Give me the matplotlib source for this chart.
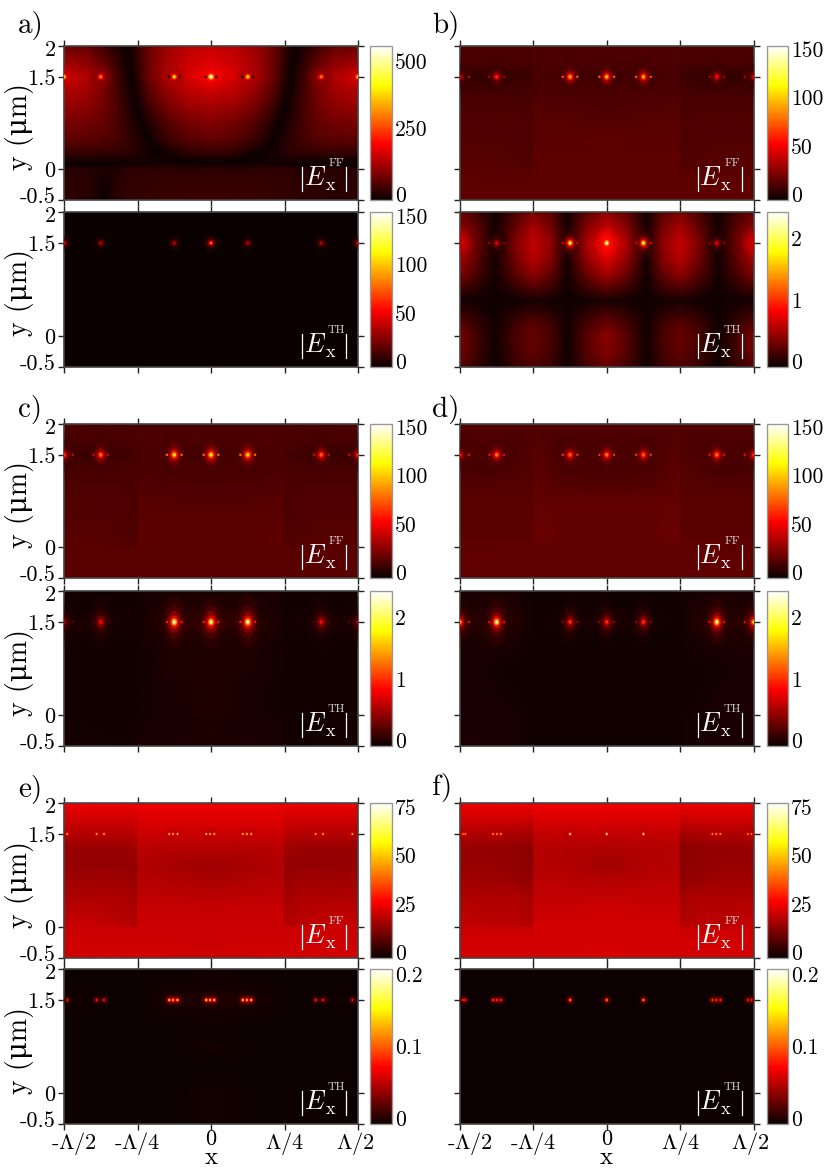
#!/usr/bin/env python3
# -*- coding: utf-8 -*-
import numpy as np
import matplotlib
matplotlib.use('Agg')
import matplotlib.pyplot as plt
from matplotlib.colors import Normalize
from matplotlib.cm import ScalarMappable
from matplotlib.lines import Line2D
from matplotlib.markers import MarkerStyle
from matplotlib.transforms import Affine2D, ScaledTranslation

plt.rcParams['font.family'] = ['cmr10', 'DejaVu Serif']
plt.rcParams['mathtext.fontset'] = 'cm'
plt.rcParams['axes.unicode_minus'] = False

W, H = 830, 1169

# tick labels
x_ticks = [-0.5, -0.25, 0, 0.25, 0.5]
x_labels = [r'-$\Lambda$/2', r'-$\Lambda$/4', '0', r'$\Lambda$/4', r'$\Lambda$/2']
y_ticks = [-0.5, 0, 1.5, 2]
y_labels = ['-0.5', '0', '1.5', '2']

# colour scales (top of the bar, labelled values)
a_ff_max, a_ff_ticks = 579, [0, 250, 500]
a_th_max, a_th_ticks = 160, [0, 50, 100, 150]
ff_max, ff_ticks = 159, [0, 50, 100, 150]
th_max, th_ticks = 2.52, [0, 1, 2]
e_ff_max, e_ff_ticks = 80, [0, 25, 50, 75]
e_th_max, e_th_ticks = 0.215, [0, 0.1, 0.2]

# left half grids, mirrored when drawn
wall_x = [-0.5, -0.4, -0.3, -0.251, -0.249, -0.15, 0]
wall_y = [2, 1.75, 1.5, 1.25, 1, 0.75, 0.5, 0.25, 0.01, -0.01, -0.25, -0.5]

a_ff_x = [-0.5, -0.42, -0.36, -0.31, -0.285, -0.27, -0.25, -0.235, -0.215, -0.19, -0.15, -0.08, 0]
a_ff_y = [2, 1.5, 1, 0.75, 0.5, 0.35, 0.25, 0.15, 0.08, 0, -0.25, -0.5]
a_ff = [
    [85, 75, 45, 15, 2, 15, 40, 58, 80, 100, 125, 150, 165],
    [165, 145, 95, 40, 15, 2, 28, 50, 80, 105, 140, 180, 200],
    [120, 110, 85, 48, 28, 14, 3, 18, 40, 62, 90, 120, 130],
    [95, 90, 75, 48, 33, 24, 12, 2, 18, 36, 62, 90, 103],
    [75, 72, 65, 50, 40, 32, 22, 12, 2, 20, 45, 70, 80],
    [50, 50, 48, 40, 35, 30, 25, 18, 10, 3, 22, 45, 55],
    [35, 35, 33, 30, 28, 25, 22, 18, 12, 6, 3, 28, 35],
    [12, 12, 12, 12, 12, 12, 12, 12, 10, 8, 5, 3, 10],
    [3, 3, 3, 4, 6, 7, 8, 8, 8, 8, 8, 8, 8],
    [25, 25, 15, 20, 28, 30, 34, 32, 32, 30, 30, 28, 30],
    [32, 28, 8, 30, 32, 34, 34, 34, 36, 38, 38, 40, 40],
    [30, 25, 6, 30, 32, 34, 36, 36, 38, 40, 42, 45, 45],
]
a_ff_right_low = [25, 30, 30]
a_th = [[0.5] * 7] * 12

b_ff = [
    [16, 16, 16, 16, 16, 16, 16],
    [15, 15, 15, 15, 16, 16, 16],
    [11, 9, 11, 13, 15, 14, 13],
    [14, 14, 14, 15, 16, 16, 16],
    [16, 16, 16, 15, 18, 17, 16],
    [17, 17, 17, 16, 19, 19, 18],
    [17, 17, 17, 16, 19, 19, 20],
    [18, 18, 17, 16, 20, 20, 20],
    [19, 19, 18, 17, 20, 20, 20],
    [19, 19, 19, 19, 20, 20, 20],
    [20, 20, 20, 20, 20, 20, 20],
    [20, 20, 20, 20, 20, 20, 20],
]
b_th_x = [-0.5, -0.44, -0.38, -0.31, -0.25, -0.19, -0.135, -0.07, 0]
b_th_y = [2, 1.75, 1.5, 1.25, 1, 0.75, 0.57, 0.4, 0.2, 0, -0.25, -0.5]
b_th = [
    [.35, .2, .03, .25, .42, .3, .03, .3, .5],
    [.5, .3, .03, .35, .6, .4, .03, .45, .7],
    [.7, .35, .03, .45, .7, .5, .03, .6, .95],
    [.6, .3, .03, .4, .65, .45, .03, .5, .8],
    [.45, .22, .03, .3, .5, .33, .03, .35, .6],
    [.2, .1, .02, .14, .24, .16, .02, .16, .28],
    [.04, .03, .01, .03, .05, .04, .01, .03, .05],
    [.15, .08, .02, .1, .15, .1, .02, .12, .2],
    [.3, .15, .02, .2, .3, .2, .02, .22, .35],
    [.42, .2, .02, .25, .35, .24, .02, .28, .5],
    [.4, .2, .02, .22, .33, .22, .02, .28, .45],
    [.28, .15, .02, .18, .25, .18, .02, .22, .35],
]
c_ff = [
    [16, 16, 16, 16, 16, 16, 16],
    [15, 15, 15, 15, 16, 16, 16],
    [13, 10, 13, 14, 16, 15, 13],
    [15, 15, 15, 15, 16, 15, 15],
    [16, 16, 16, 15, 17, 16, 16],
    [17, 17, 17, 15, 19, 18, 17],
    [17, 17, 17, 16, 19, 19, 19],
    [18, 18, 17, 16, 20, 19, 19],
    [19, 19, 18, 17, 20, 19, 19],
    [19, 19, 19, 19, 19, 19, 19],
    [19, 19, 19, 19, 19, 19, 19],
    [19, 19, 19, 19, 19, 19, 19],
]
c_th = [
    [.03, .03, .03, .03, .04, .06, .06],
    [.03, .03, .03, .03, .04, .08, .08],
    [.06, .08, .05, .03, .05, .12, .18],
    [.03, .03, .03, .03, .04, .08, .08],
    [.03, .03, .03, .03, .03, .07, .08],
    [.03, .03, .03, .03, .03, .07, .08],
    [.03, .03, .03, .03, .03, .06, .08],
    [.03, .03, .03, .03, .03, .06, .08],
    [.03, .03, .03, .03, .03, .06, .08],
    [.03, .03, .03, .03, .04, .06, .07],
    [.04, .03, .03, .03, .05, .06, .07],
    [.05, .04, .03, .03, .05, .06, .07],
]
d_ff = [
    [17, 17, 17, 17, 17, 17, 17],
    [16, 17, 16, 17, 18, 16, 16],
    [15, 15, 16, 17, 19, 15, 15],
    [15, 14, 17, 18, 20, 15, 15],
    [18, 18, 18, 18, 21, 18, 17],
    [19, 19, 19, 19, 21, 21, 21],
    [19, 19, 19, 19, 22, 21, 21],
    [19, 19, 19, 19, 23, 21, 21],
    [20, 20, 20, 20, 21, 21, 21],
    [20, 20, 21, 21, 21, 21, 21],
    [21, 21, 21, 21, 21, 21, 21],
    [21, 21, 21, 21, 21, 21, 21],
]
d_th = [
    [.06, .06, .05, .02, .02, .02, .02],
    [.06, .08, .07, .02, .02, .03, .03],
    [.12, .12, .10, .02, .02, .05, .08],
    [.06, .08, .06, .02, .02, .02, .02],
    [.06, .06, .04, .02, .02, .02, .02],
    [.06, .04, .02, .02, .02, .02, .02],
    [.06, .05, .02, .02, .02, .02, .02],
    [.06, .06, .03, .02, .02, .02, .02],
    [.06, .06, .05, .02, .02, .02, .02],
    [.06, .06, .05, .02, .02, .02, .02],
    [.06, .06, .05, .02, .02, .02, .02],
    [.06, .06, .05, .02, .02, .02, .02],
]
e_ff = [
    [27, 27, 27, 27, 27, 27, 27],
    [24, 24, 24, 24, 25, 25, 25],
    [20, 20, 20, 21, 23, 23, 23],
    [17, 17, 17, 18, 21, 20, 20],
    [17, 16.5, 16.5, 16, 20, 19, 17.5],
    [18, 18, 18, 17, 20.5, 20, 19],
    [19.5, 19.5, 19.5, 18, 21.5, 21.5, 21],
    [21, 21, 20, 19, 22.5, 22.5, 22.5],
    [22.5, 22.5, 21, 20, 23, 23, 23],
    [23, 23, 23, 23, 23, 23, 23],
    [23.5, 23.5, 23.5, 23.5, 23.5, 23.5, 23],
    [24, 24, 24, 24, 24, 24, 24],
]
e_th = [
    [.001, .001, .001, .001, .001, .001, .002],
    [.001, .001, .001, .001, .001, .002, .004],
    [.002, .002, .001, .001, .001, .006, .008],
    [.001, .001, .001, .001, .001, .002, .004],
    [.001, .001, .001, .001, .001, .001, .001],
    [.001, .001, .001, .001, .001, .001, .004],
    [.001, .001, .001, .001, .001, .001, .001],
    [.001, .001, .001, .001, .001, .001, .001],
    [.001, .001, .001, .001, .001, .001, .004],
    [.001, .001, .001, .001, .001, .001, .004],
    [.001, .001, .001, .001, .001, .001, .004],
    [.001, .001, .001, .001, .001, .001, .004],
]
f_ff = [
    [27, 27, 27, 27, 27, 27, 27],
    [24, 24, 24, 23, 25, 25, 25],
    [19.5, 19.5, 19, 18, 22, 22, 22],
    [17, 16.5, 16, 15, 20.5, 20, 19.5],
    [17, 17, 16, 15, 20.5, 20, 18],
    [18, 18, 17, 16, 21, 21, 20],
    [19.5, 19.5, 19.5, 18, 22, 22, 22],
    [21, 20.5, 20.5, 19, 23, 23, 24],
    [22.5, 21.5, 21, 20, 24, 24, 24],
    [23, 23, 23, 23, 24, 24, 24],
    [24, 24, 24, 24, 24, 24, 24],
    [24, 24, 24, 24, 24, 24, 25],
]
f_th = [[.001] * 7] * 12

# hot spots along y = 1.5, with the level of the field around each one
spot_x = [-0.5, -0.375, -0.125, 0, 0.125, 0.375, 0.5]
a_ff_peak = [400, 330, 400, 560, 400, 320, 400]
a_ff_floor = [165, 110, 140, 200, 140, 110, 165]
a_th_peak = [60, 45, 45, 90, 45, 45, 60]
b_ff_peak = [50, 65, 100, 105, 100, 60, 50]
b_th_peak = [0.6, 0.8, 2.0, 2.3, 2.0, 0.8, 0.6]
b_th_floor = [0.7, 0.1, 0.1, 0.95, 0.1, 0.1, 0.7]
c_ff_peak = [70, 85, 110, 115, 110, 80, 65]
c_th_peak = [0.6, 0.9, 2.3, 2.2, 2.3, 0.9, 0.6]
d_ff_peak = [60, 85, 80, 85, 80, 85, 65]
d_th_peak = [1.6, 2.3, 1.1, 1.1, 1.1, 2.3, 1.7]

# small side dots next to the spots
a_ff_side_x = [-0.143, -0.107, -0.018, 0.018, 0.107, 0.143]
a_ff_side_v = [10, 10, 10, 10, 10, 10]
b_side_x = [-0.47, -0.40, -0.35, -0.15, -0.10, -0.025, 0.025, 0.10, 0.15, 0.35, 0.40, 0.47]
b_ff_side_v = [45, 40, 40, 80, 80, 80, 80, 80, 80, 40, 40, 45]
b_th_side_v = [0.6, 0.6, 0.5, 0.8, 0.8, 0.7, 0.7, 0.8, 0.8, 0.5, 0.6, 0.6]
c_ff_side_v = [50, 50, 50, 85, 85, 85, 85, 85, 85, 50, 50, 50]
c_th_side_v = [0.3, 0.3, 0.3, 1.0, 1.0, 1.0, 1.0, 1.0, 1.0, 0.3, 0.3, 0.3]
d_ff_side_v = [60, 60, 60, 70, 70, 70, 70, 70, 70, 60, 60, 60]
d_th_side_v = [0.9, 0.9, 0.9, 0.5, 0.5, 0.5, 0.5, 0.5, 0.5, 0.9, 0.9, 0.9]

e_dots_x = [-0.489, -0.389, -0.364, -0.142, -0.129, -0.114, -0.016, -0.003, 0.011,
            0.108, 0.122, 0.137, 0.356, 0.381, 0.481]
e_ff_dots = [60, 60, 60, 65, 65, 65, 65, 65, 65, 65, 65, 65, 60, 60, 60]
e_th_dots = [.09, .1, .1, .19, .19, .19, .19, .19, .19, .19, .19, .19, .1, .1, .09]
f_dots_x = [-0.49, -0.482, -0.387, -0.374, -0.361, -0.125, 0, 0.125,
            0.36, 0.373, 0.387, 0.481, 0.493]
f_ff_dots = [52, 52, 55, 55, 55, 75, 75, 75, 55, 55, 55, 52, 52]
f_th_dots = [.1, .1, .11, .11, .11, .15, .15, .15, .11, .11, .11, .1, .1]

# rings of a glowing spot: radius share, value share, alpha
RING_R = [1, 0.75, 0.55, 0.38, 0.24, 0.13]
RING_F = [0.12, 0.18, 0.28, 0.42, 0.65, 1]
RING_A = [0.25, 0.35, 0.5, 0.7, 0.9, 1]


def px_rect(left, top, right, bottom):
    return [left / W, 1 - bottom / H, (right - left) / W, (bottom - top) / H]


def mirror(rows):
    rows = np.array(rows, dtype=float)
    return np.hstack([rows, rows[:, -2::-1]])


def mirror_x(x):
    x = np.array(x, dtype=float)
    return np.concatenate([x, -x[-2::-1]])


def spots(ax, norm, xs, peaks, radius, stretch=1.0, floor=0.0):
    xs = np.array(xs)
    peaks = np.array(peaks, dtype=float)
    for r, f, a in zip(RING_R, RING_F, RING_A):
        # only the outer rings run out into lobes
        marker = MarkerStyle('o', transform=Affine2D().scale(1, 1 + (stretch - 1) * r))
        size = (2 * radius * r * 0.72) ** 2
        # a ring never goes darker than the field it sits on
        ax.scatter(xs, np.full(len(xs), 1.5), s=size, c=np.maximum(peaks * f, floor), cmap='hot',
                   norm=norm, marker=marker, linewidths=0, alpha=a, clip_on=True, zorder=3)


def dots(ax, norm, xs, values, radius=1.2):
    ax.scatter(xs, np.full(len(xs), 1.5), s=(2 * radius * 0.72) ** 2, c=values, cmap='hot',
               norm=norm, linewidths=0, zorder=4)


def field_label(fig, right, bottom, name):
    # |E_x^FF| put together by hand, the superscript is small and greyer
    for bar_x in (right - 56, right - 12):
        fig.add_artist(Line2D([bar_x / W] * 2, [1 - (bottom - 33) / H, 1 - (bottom - 9) / H],
                              color='white', lw=0.9, zorder=10))
    fig.text((right - 43) / W, 1 - (bottom - 22) / H, r'$E$', color='white', fontsize=19,
             ha='center', va='center', zorder=10)
    fig.text((right - 27.5) / W, 1 - (bottom - 15) / H, 'x', color='white', fontsize=13,
             ha='center', va='center', zorder=10)
    fig.text((right - 21.5) / W, 1 - (bottom - 37) / H, name, color='#d8d8d8', fontsize=8.5,
             ha='center', va='center', zorder=10)


def shift_label(fig, label, dx=0, dy=0):
    label.set_transform(label.get_transform() + ScaledTranslation(dx / 100, dy / 100, fig.dpi_scale_trans))


def panel(fig, rect, cb_rect, x, y, grid, vmax, ticks, name, show_y, show_x):
    ax = fig.add_axes(px_rect(*rect))
    norm = Normalize(0, vmax)
    ax.pcolormesh(x, y, grid, shading='gouraud', cmap='hot', norm=norm, rasterized=True)
    ax.set_xlim(-0.5, 0.5)
    ax.set_ylim(-0.5, 2)
    ax.set_xticks(x_ticks)
    ax.set_yticks(y_ticks)
    ax.set_xticklabels(x_labels if show_x else [])
    ax.set_yticklabels(y_labels if show_y else [])
    ax.tick_params(top=True, right=True, direction='out', length=4, width=1, color='#222222',
                   labelsize=16, pad=2)
    ax.tick_params(axis='x', pad=0)
    # end labels sit a little inside their ticks, as in the original
    if show_y:
        labels = ax.get_yticklabels()
        shift_label(fig, labels[0], dy=5)
        shift_label(fig, labels[3], dy=-2)
        fig.text(20 / W, 1 - (rect[1] + 81) / H, 'y (\u03bcm)', rotation=90, fontsize=20,
                 ha='center', va='center')
    if show_x:
        labels = ax.get_xticklabels()
        shift_label(fig, labels[0], dx=10)
        shift_label(fig, labels[4], dx=-3)
        fig.text((rect[0] + rect[2]) / 2 / W, 1 - 1164 / H, 'x', fontsize=18, ha='center', va='baseline')
    for s in ax.spines.values():
        s.set_color('#444444')
        s.set_linewidth(1.2)
    field_label(fig, rect[2], rect[3], name)

    cax = fig.add_axes(px_rect(*cb_rect))
    cb = fig.colorbar(ScalarMappable(norm=norm, cmap='hot'), cax=cax)
    cb.set_ticks([])
    cb.outline.set_edgecolor('#999999')
    cb.outline.set_linewidth(1)
    for t in ticks:
        cax.annotate(str(t), xy=(1, t), xycoords=('axes fraction', 'data'), xytext=(2, 2.5),
                     textcoords='offset points', va='center', ha='left', fontsize=15.5,
                     annotation_clip=False)
    return ax, norm


fig = plt.figure(figsize=(W / 100, H / 100), dpi=100)

COL = [(64, 358, 370, 392), (460, 753.5, 767, 788)]
ROW_A = (46, 200, 212, 367)
ROW_C = (424, 578, 591, 746)
ROW_E = (803, 958, 969, 1124)


def rects(col, row):
    l, r, c0, c1 = COL[col]
    t0, b0, t1, b1 = row
    return (l, t0, r, b0), (c0, t0, c1, b0), (l, t1, r, b1), (c0, t1, c1, b1)


wx = mirror_x(wall_x)

# a)
r0, c0, r1, c1 = rects(0, ROW_A)
a_ff_grid = mirror(a_ff)
a_ff_grid[-3:, -3] = a_ff_right_low
ax, n = panel(fig, r0, c0, mirror_x(a_ff_x), a_ff_y, a_ff_grid, a_ff_max, a_ff_ticks, 'FF', True, False)
spots(ax, n, spot_x, a_ff_peak, 12, floor=a_ff_floor)
dots(ax, n, a_ff_side_x, a_ff_side_v, 1.2)
ax, n = panel(fig, r1, c1, wx, wall_y, mirror(a_th), a_th_max, a_th_ticks, 'TH', True, False)
spots(ax, n, spot_x, a_th_peak, 8)

# b)
r0, c0, r1, c1 = rects(1, ROW_A)
ax, n = panel(fig, r0, c0, wx, wall_y, mirror(b_ff), ff_max, ff_ticks, 'FF', False, False)
spots(ax, n, spot_x, b_ff_peak, 12, 1.6, floor=12)
dots(ax, n, b_side_x, b_ff_side_v)
ax, n = panel(fig, r1, c1, mirror_x(b_th_x), b_th_y, mirror(b_th), th_max, th_ticks, 'TH', False, False)
spots(ax, n, spot_x, b_th_peak, 11, 1.4, floor=b_th_floor)
dots(ax, n, b_side_x, b_th_side_v)

# c)
r0, c0, r1, c1 = rects(0, ROW_C)
ax, n = panel(fig, r0, c0, wx, wall_y, mirror(c_ff), ff_max, ff_ticks, 'FF', True, False)
spots(ax, n, spot_x, c_ff_peak, 13, 1.8, floor=13)
dots(ax, n, b_side_x, c_ff_side_v)
ax, n = panel(fig, r1, c1, wx, wall_y, mirror(c_th), th_max, th_ticks, 'TH', True, False)
spots(ax, n, spot_x, c_th_peak, 12, 2.2)
dots(ax, n, b_side_x, c_th_side_v)

# d)
r0, c0, r1, c1 = rects(1, ROW_C)
ax, n = panel(fig, r0, c0, wx, wall_y, mirror(d_ff), ff_max, ff_ticks, 'FF', False, False)
spots(ax, n, spot_x, d_ff_peak, 13, 1.8, floor=15)
dots(ax, n, b_side_x, d_ff_side_v)
ax, n = panel(fig, r1, c1, wx, wall_y, mirror(d_th), th_max, th_ticks, 'TH', False, False)
spots(ax, n, spot_x, d_th_peak, 11, 2.2)
dots(ax, n, b_side_x, d_th_side_v)

# e)
r0, c0, r1, c1 = rects(0, ROW_E)
ax, n = panel(fig, r0, c0, wx, wall_y, mirror(e_ff), e_ff_max, e_ff_ticks, 'FF', True, False)
spots(ax, n, e_dots_x, e_ff_dots, 5, floor=21)
ax, n = panel(fig, r1, c1, wx, wall_y, mirror(e_th), e_th_max, e_th_ticks, 'TH', True, True)
spots(ax, n, e_dots_x, e_th_dots, 5, 1.3)

# f)
r0, c0, r1, c1 = rects(1, ROW_E)
ax, n = panel(fig, r0, c0, wx, wall_y, mirror(f_ff), e_ff_max, e_ff_ticks, 'FF', False, False)
spots(ax, n, f_dots_x, f_ff_dots, 5, 1.3, floor=20)
ax, n = panel(fig, r1, c1, wx, wall_y, mirror(f_th), e_th_max, e_th_ticks, 'TH', False, True)
spots(ax, n, f_dots_x, f_th_dots, 5, 1.3)

# panel letters
for txt, px, py in [('a)', 18, 26), ('b)', 432, 26), ('c)', 18, 410), ('d)', 432, 410),
                    ('e)', 18, 789), ('f)', 432, 788)]:
    fig.text(px / W, 1 - py / H, txt, fontsize=21, ha='left', va='center')

fig.savefig('out.png', dpi=100)
plt.close(fig)
